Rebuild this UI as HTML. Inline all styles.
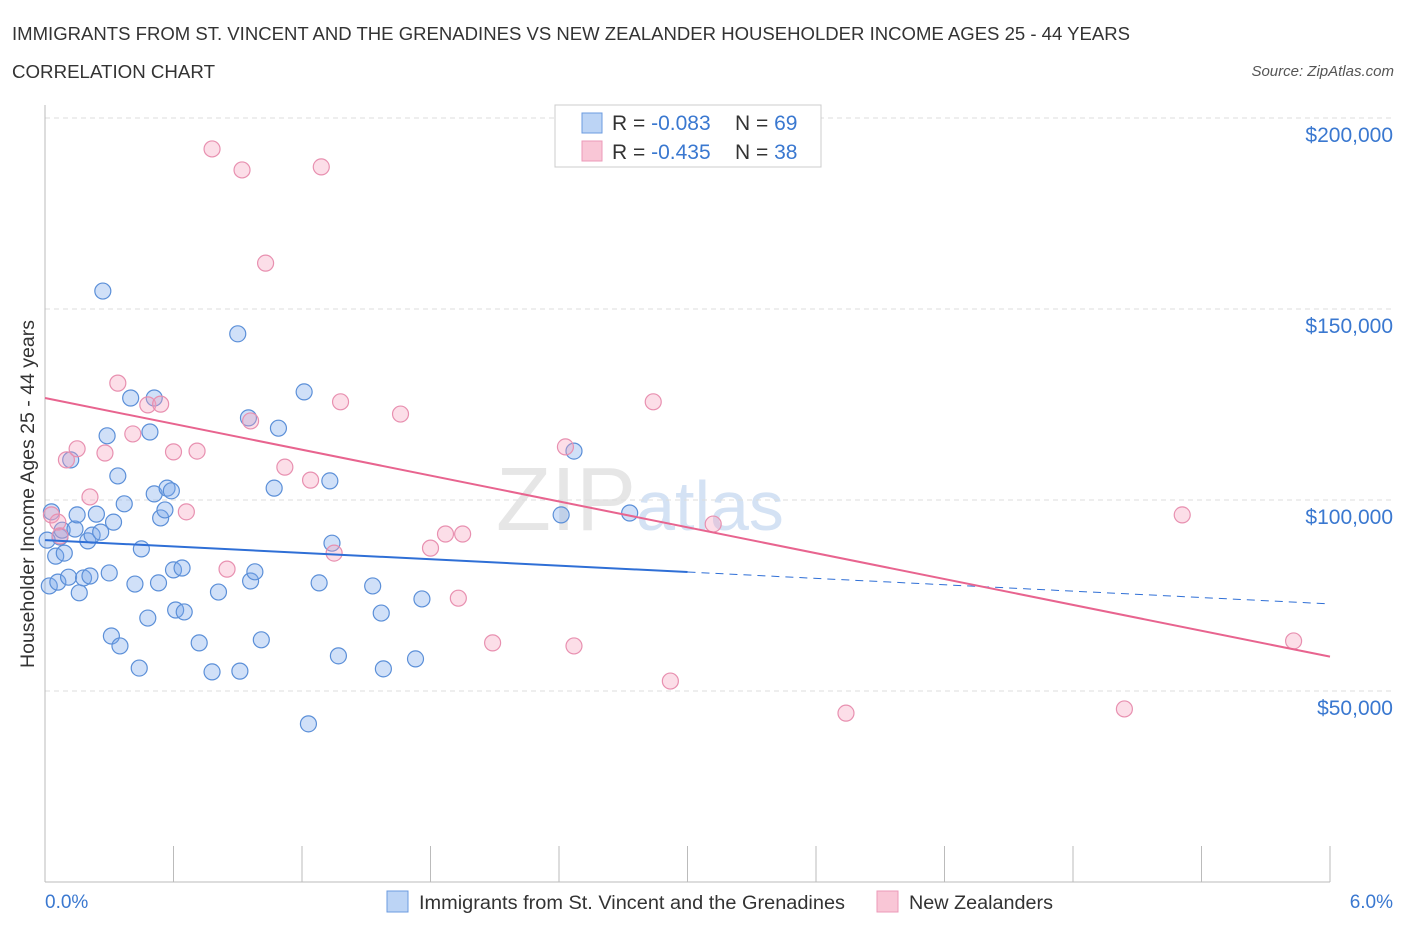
<!DOCTYPE html>
<html><head><meta charset="utf-8"><style>
body{margin:0;background:#fff;font-family:"Liberation Sans",sans-serif;}
svg text{font-family:"Liberation Sans",sans-serif;}
</style></head><body>
<svg id="chart" width="1406" height="930" xmlns="http://www.w3.org/2000/svg">
<text x="12" y="40" font-size="18" fill="#333" textLength="1118" lengthAdjust="spacingAndGlyphs">IMMIGRANTS FROM ST. VINCENT AND THE GRENADINES VS NEW ZEALANDER HOUSEHOLDER INCOME AGES 25 - 44 YEARS</text>
<text x="12" y="78" font-size="18" fill="#333" textLength="203" lengthAdjust="spacingAndGlyphs">CORRELATION CHART</text>
<text x="1394" y="76" font-size="15" fill="#555" font-style="italic" text-anchor="end">Source: ZipAtlas.com</text>
<text x="640" y="530" font-size="90" fill="#e6e6e6" font-family="Liberation Serif" text-anchor="middle">ZIP<tspan fill="#d4e2f4" font-family="Liberation Sans" font-size="70">atlas</tspan></text>
<g id="grid"></g><g id="axes"></g><g id="marks"></g>
<text transform="translate(34,494) rotate(-90)" font-size="19.5" fill="#333" text-anchor="middle">Householder Income Ages 25 - 44 years</text>
<text x="45" y="908" font-size="19" fill="#3a78d0">0.0%</text>
<text x="1393" y="908" font-size="19" fill="#3a78d0" text-anchor="end">6.0%</text>
<g>
<rect x="555" y="105" width="266" height="62" fill="#fff" stroke="#ccc"/>
<rect x="582" y="113" width="20" height="20" fill="#bcd4f5" stroke="#6b9be0"/>
<rect x="582" y="141" width="20" height="20" fill="#f9c6d6" stroke="#ec9ab8"/>
<text x="612" y="130" font-size="21" fill="#333">R = <tspan fill="#3a78d0">-0.083</tspan></text>
<text x="735" y="130" font-size="21" fill="#333">N = <tspan fill="#3a78d0">69</tspan></text>
<text x="612" y="159" font-size="21" fill="#333">R = <tspan fill="#3a78d0">-0.435</tspan></text>
<text x="735" y="159" font-size="21" fill="#333">N = <tspan fill="#3a78d0">38</tspan></text>
</g>
<g>
<rect x="387" y="891" width="21" height="21" fill="#bcd4f5" stroke="#6b9be0"/>
<text x="419" y="909" font-size="19" fill="#333" textLength="426" lengthAdjust="spacingAndGlyphs">Immigrants from St. Vincent and the Grenadines</text>
<rect x="877" y="891" width="21" height="21" fill="#f9c6d6" stroke="#ec9ab8"/>
<text x="909" y="909" font-size="19" fill="#333" textLength="144" lengthAdjust="spacingAndGlyphs">New Zealanders</text>
</g>
</svg>
<script>
const blueX=[0.02,0.05,0.03,0.06,0.07,0.08,0.09,0.11,0.12,0.14,0.15,0.16,0.18,0.20,0.21,0.22,0.24,0.26,0.27,0.29,0.30,0.31,0.32,0.34,0.35,0.37,0.40,0.42,0.44,0.45,0.48,0.49,0.51,0.51,0.53,0.54,0.56,0.57,0.59,0.60,0.61,0.64,0.65,0.72,0.78,0.81,0.90,0.91,0.95,0.96,0.98,1.01,1.07,1.09,1.21,1.28,1.33,1.34,1.37,1.53,1.57,1.58,1.73,1.76,2.41,2.47,2.73,1.23,0.01];
const blueY=[77.5,85.3,96.9,78.5,90.3,92.1,86.1,79.8,110.5,92.4,96.1,75.7,79.6,89.3,80.1,90.8,96.3,91.6,154.7,116.8,80.9,64.4,94.2,106.3,61.8,99.0,126.7,78.0,56.0,87.2,69.1,117.8,101.6,126.7,78.3,95.3,97.4,103.1,102.4,81.7,71.2,82.2,70.7,62.6,55.0,75.9,143.5,55.2,121.5,78.8,81.2,63.4,103.1,118.8,128.3,78.3,105.0,88.7,59.2,77.5,70.4,55.8,58.4,74.1,96.1,112.8,96.6,41.4,89.5];
const pinkX=[0.03,0.06,0.07,0.10,0.15,0.21,0.28,0.34,0.41,0.48,0.54,0.60,0.66,0.71,0.78,0.85,0.92,0.96,1.03,1.12,1.24,1.29,1.35,1.38,1.66,1.80,1.87,1.93,1.95,2.09,2.43,2.47,2.84,2.92,3.12,3.74,5.04,5.31,5.83];
const pinkY=[96.1,94.2,90.6,110.5,113.4,100.8,112.3,130.6,117.3,124.9,125.1,112.6,96.9,112.8,191.9,81.9,186.4,120.7,162.0,108.6,105.2,187.2,86.1,125.7,122.5,87.4,91.1,74.3,91.1,62.6,113.9,61.8,125.7,52.6,93.7,44.2,45.3,96.1,63.1];
const yTicks=[50,100,150,200];
const yTickLabels=["$50,000","$100,000","$150,000","$200,000"];
const xTicks=[0,0.6,1.2,1.8,2.4,3.0,3.6,4.2,4.8,5.4,6.0];
const blueTrend=[89.5,72.8];
const pinkTrend=[126.7,59.0];
const blueSolidEnd=3.0;

const NS="http://www.w3.org/2000/svg";
const sx=v=>45+v/6*1285;
const sy=v=>882-v*191/50;
function mk(tag,attrs,parent){const e=document.createElementNS(NS,tag);for(const k in attrs)e.setAttribute(k,attrs[k]);parent.appendChild(e);return e;}
const grid=document.getElementById('grid'),axes=document.getElementById('axes'),marks=document.getElementById('marks');
yTicks.forEach((t,i)=>{
  const l=mk('line',{x1:45,x2:1394,y1:sy(t),y2:sy(t),stroke:'#ddd','stroke-dasharray':'5,4'},grid);
  
  
  const tx=mk('text',{x:1393,y:sy(t)+24,'font-size':21,fill:'#3a78d0','text-anchor':'end'},grid);
  tx.textContent=yTickLabels[i];
  
  
});
const ya=mk('line',{x1:45,x2:45,y1:105,y2:882,stroke:'#bbb'},axes);


const xa=mk('line',{x1:45,x2:1330,y1:882,y2:882,stroke:'#bbb'},axes);


xTicks.forEach(t=>{
  const l=mk('line',{x1:sx(t),x2:sx(t),y1:846,y2:882,stroke:'#bbb'},axes);
  
  
});
function dots(X,Y,fill,stroke,name){
  X.forEach((x,i)=>{
    const c=mk('circle',{cx:sx(x),cy:sy(Y[i]),r:8,fill:fill,stroke:stroke,'stroke-width':1.2},marks);
    
    
  });
}
dots(blueX,blueY,'rgba(120,165,235,0.35)','#5b8fd8','immigrant-point');
dots(pinkX,pinkY,'rgba(245,160,190,0.35)','#e890b0','new-zealander-point');
const at=(tr,x)=>tr[0]+(tr[1]-tr[0])*x/6;
const b1=mk('line',{x1:sx(0),y1:sy(blueTrend[0]),x2:sx(blueSolidEnd),y2:sy(at(blueTrend,blueSolidEnd)),stroke:'#2f6fd6','stroke-width':2},marks);


const b2=mk('line',{x1:sx(blueSolidEnd),y1:sy(at(blueTrend,blueSolidEnd)),x2:sx(6),y2:sy(blueTrend[1]),stroke:'#2f6fd6','stroke-width':1,'stroke-dasharray':'8,6'},marks);


const p1=mk('line',{x1:sx(0),y1:sy(pinkTrend[0]),x2:sx(6),y2:sy(pinkTrend[1]),stroke:'#e8648f','stroke-width':2},marks);


</script>
</body></html>
